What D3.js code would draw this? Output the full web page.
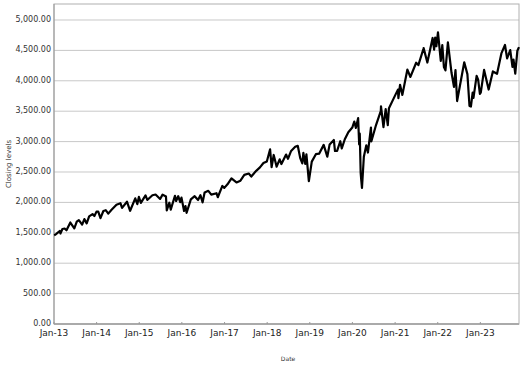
<!DOCTYPE html>
<html>
<head>
<meta charset="utf-8">
<script src="https://cdn.jsdelivr.net/npm/d3@7"></script>
<style>
  body { margin: 0; background: #fff; }
  svg { display: block; font-family: "DejaVu Sans", sans-serif; }
</style>
</head>
<body>
<svg id="chart" width="525" height="367"></svg>
<script>
// closing levels (approx. half-monthly plus turning points)
var dates = [
  "2013-01-02","2013-01-15","2013-01-31","2013-02-19","2013-02-25","2013-03-14","2013-04-02","2013-04-18","2013-05-21","2013-06-24",
  "2013-07-15","2013-08-02","2013-08-30","2013-09-18","2013-10-08","2013-10-29","2013-11-27","2013-12-13","2013-12-31",
  "2014-01-15","2014-02-03","2014-02-28","2014-03-20","2014-04-11","2014-05-09","2014-06-20","2014-07-24","2014-08-07","2014-09-18",
  "2014-10-15","2014-11-28","2014-12-16","2014-12-29",
  "2015-01-15","2015-02-24","2015-03-11","2015-04-24","2015-05-21","2015-06-29","2015-07-20","2015-08-18","2015-08-25","2015-09-16",
  "2015-09-28","2015-11-03","2015-11-13","2015-12-01","2015-12-18","2015-12-29",
  "2016-01-20","2016-02-01","2016-02-11","2016-03-18","2016-04-20","2016-05-19","2016-06-08","2016-06-27","2016-07-14","2016-08-15",
  "2016-09-09","2016-10-24","2016-11-04","2016-12-13","2016-12-30",
  "2017-01-26","2017-03-01","2017-04-13","2017-05-17","2017-06-19","2017-07-27","2017-08-18","2017-09-29","2017-10-31","2017-11-30","2017-12-29",
  "2018-01-26","2018-02-08","2018-02-26","2018-03-23","2018-04-18","2018-05-03","2018-06-12","2018-06-28","2018-07-25","2018-08-29",
  "2018-09-20","2018-10-11","2018-10-29","2018-11-07","2018-11-23","2018-12-03","2018-12-24",
  "2019-01-18","2019-02-22","2019-03-22","2019-04-30","2019-05-31","2019-06-20","2019-07-26","2019-08-05","2019-08-23","2019-09-19",
  "2019-10-02","2019-10-28","2019-11-27","2019-12-31",
  "2020-01-17","2020-01-31","2020-02-19","2020-02-28","2020-03-04","2020-03-12","2020-03-16","2020-03-23","2020-04-08","2020-04-29",
  "2020-05-13","2020-06-08","2020-06-11","2020-07-22","2020-08-31","2020-09-02","2020-09-23","2020-10-12","2020-10-30","2020-11-09","2020-12-31",
  "2021-01-25","2021-01-29","2021-02-12","2021-03-04","2021-04-16","2021-05-12","2021-06-30","2021-07-19","2021-08-31","2021-09-02",
  "2021-10-04","2021-11-18","2021-12-01","2021-12-10","2021-12-20","2022-01-03",
  "2022-01-27","2022-02-09","2022-02-23","2022-03-08","2022-03-29","2022-04-29","2022-05-20","2022-06-02","2022-06-16","2022-07-08",
  "2022-08-16","2022-09-12","2022-09-30","2022-10-12","2022-10-27","2022-11-03","2022-11-30","2022-12-13","2022-12-28",
  "2023-01-05","2023-02-02","2023-03-13","2023-04-18","2023-05-24","2023-06-30","2023-07-31","2023-08-18","2023-09-14","2023-10-03",
  "2023-10-12","2023-10-27","2023-11-14","2023-11-28"
];
var closes = [
  1462,1472,1498,1530,1488,1563,1570,1541,1669,1573,
  1682,1709,1633,1725,1655,1771,1807,1775,1848,
  1848,1741,1859,1872,1815,1878,1962,1987,1909,2011,
  1862,2067,1972,2090,
  1992,2115,2040,2117,2130,2057,2128,2096,1867,1995,
  1881,2109,2023,2102,2005,2078,
  1859,1940,1829,2049,2102,2040,2119,2000,2163,2190,
  2128,2151,2085,2271,2239,
  2297,2395,2328,2357,2453,2475,2425,2519,2575,2647,2674,
  2873,2581,2780,2588,2708,2630,2787,2716,2846,2914,
  2931,2728,2641,2814,2633,2790,2351,
  2671,2793,2801,2946,2752,2954,3026,2845,2847,3006,
  2888,3039,3154,3231,
  3330,3226,3386,2954,3130,2481,2386,2237,2750,2939,
  2820,3232,3002,3276,3500,3580,3237,3534,3270,3550,3756,
  3855,3714,3934,3768,4185,4063,4297,4258,4523,4537,
  4300,4704,4513,4712,4568,4797,
  4326,4587,4225,4171,4631,4132,3901,4176,3667,3899,
  4305,4110,3586,3577,3807,3720,4080,4019,3783,
  3808,4179,3856,4154,4115,4450,4589,4370,4505,4229,
  4349,4117,4495,4554
];
var yTicks = [0,500,1000,1500,2000,2500,3000,3500,4000,4500,5000];
var xTickYears = [2013,2014,2015,2016,2017,2018,2019,2020,2021,2022,2023];

function drawChart() {
    var parse = d3.timeParse("%Y-%m-%d");
    var data = dates.map(function(d, i) { return { date: parse(d), value: closes[i] }; });

    var svg = d3.select("#chart");
    var pLeft = 54, pRight = 519, pTop = 4, pBottom = 324;

    var x = d3.scaleTime()
        .domain([new Date(2013, 0, 1), data[data.length - 1].date])
        .range([pLeft, pRight]);
    var y = d3.scaleLinear().domain([0, 5263]).range([pBottom, pTop]);

    // grid
    svg.append("g").selectAll("line")
        .data(yTicks)
        .enter().append("line")
        .attr("x1", pLeft).attr("x2", pRight)
        .attr("y1", function(d) { return y(d); })
        .attr("y2", function(d) { return y(d); })
        .attr("stroke", "#c8c8c8")
        .attr("stroke-width", 1);

    // frame
    svg.append("rect")
        .attr("x", pLeft).attr("y", pTop)
        .attr("width", pRight - pLeft).attr("height", pBottom - pTop)
        .attr("fill", "none")
        .attr("stroke", "#b0b0b0")
        .attr("stroke-width", 1);

    svg.append("line")
        .attr("x1", pLeft).attr("x2", pRight)
        .attr("y1", pBottom).attr("y2", pBottom)
        .attr("stroke", "#aaaaaa")
        .attr("stroke-width", 2);

    svg.append("line")
        .attr("x1", pLeft).attr("x2", pLeft)
        .attr("y1", pTop).attr("y2", pBottom)
        .attr("stroke", "#999999")
        .attr("stroke-width", 1);

    // y labels
    svg.append("g").selectAll("text")
        .data(yTicks)
        .enter().append("text")
        .attr("x", pLeft - 3)
        .attr("y", function(d) { return y(d) + 2; })
        .attr("text-anchor", "end")
        .attr("font-size", 8)
        .attr("fill", "#333")
        .text(function(d) { return d3.format(",.2f")(d); });

    // x ticks + labels
    var fmt = d3.timeFormat("%b-%y");
    var xTicks = xTickYears.map(function(yr) { return new Date(yr, 0, 1); });
    svg.append("g").selectAll("line")
        .data(xTicks)
        .enter().append("line")
        .attr("x1", function(d) { return x(d); })
        .attr("x2", function(d) { return x(d); })
        .attr("y1", pBottom - 2).attr("y2", pBottom)
        .attr("stroke", "#999");
    svg.append("g").selectAll("text")
        .data(xTicks)
        .enter().append("text")
        .attr("x", function(d) { return x(d); })
        .attr("y", pBottom + 11.5)
        .attr("text-anchor", "middle")
        .attr("font-size", 9)
        .attr("fill", "#222")
        .text(function(d) { return fmt(d); });

    // axis titles
    svg.append("text")
        .attr("transform", "translate(11,164) rotate(-90)")
        .attr("text-anchor", "middle")
        .attr("font-size", 7)
        .attr("fill", "#333")
        .text("Closing levels");
    svg.append("text")
        .attr("x", 288).attr("y", 361)
        .attr("text-anchor", "middle")
        .attr("font-size", 6)
        .attr("fill", "#333")
        .text("Date");

    // series
    var line = d3.line()
        .x(function(d) { return x(d.date); })
        .y(function(d) { return y(d.value); });
    svg.append("path")
        .datum(data)
        .attr("d", line)
        .attr("fill", "none")
        .attr("stroke", "#000")
        .attr("stroke-width", 2.2)
        .attr("stroke-linejoin", "round");
}
drawChart();
</script>
</body>
</html>
